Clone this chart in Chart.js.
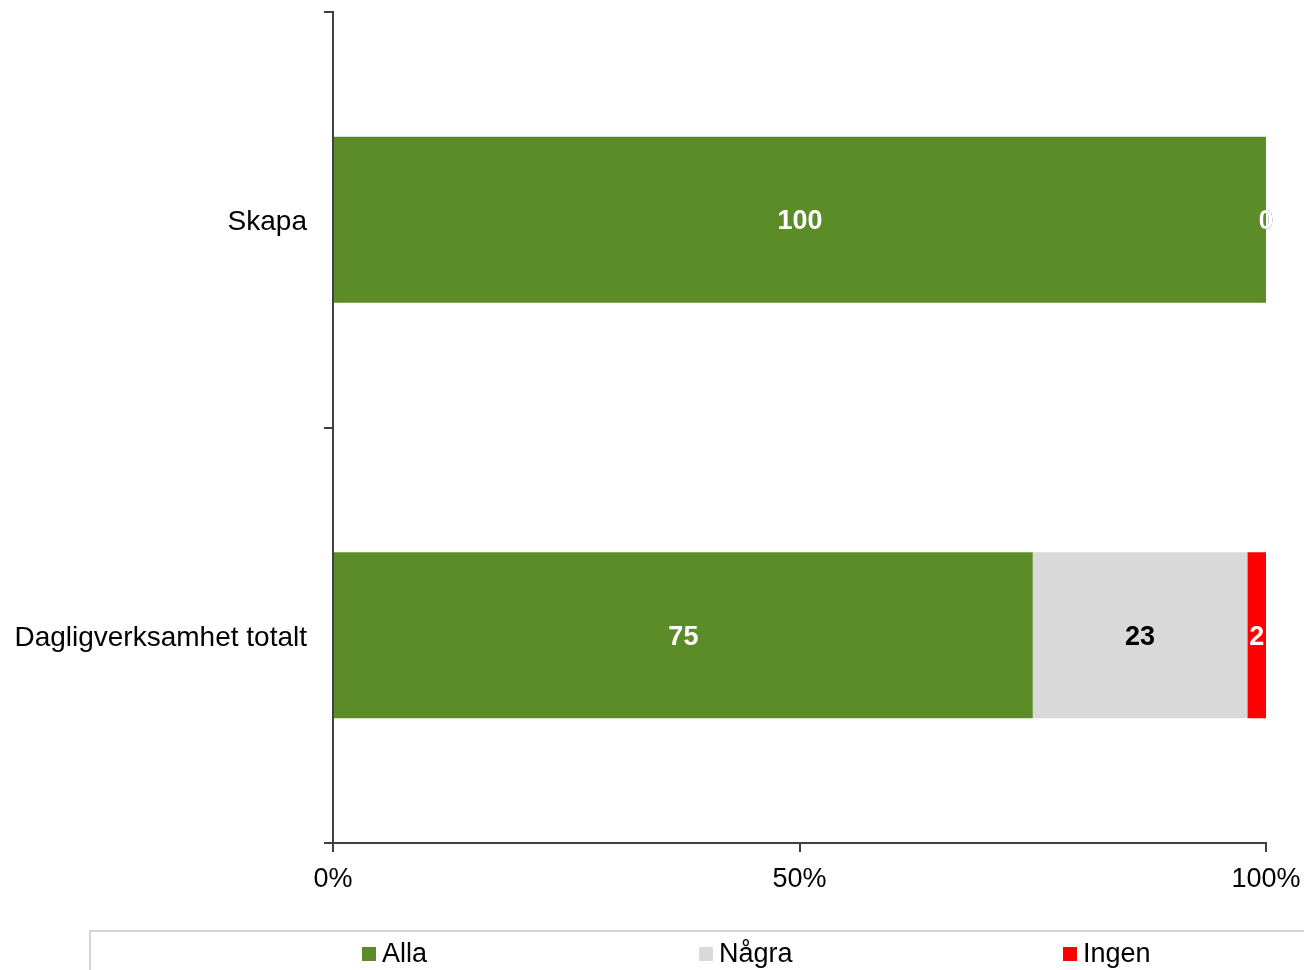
<!DOCTYPE html>
<html>
<head>
    <meta charset="utf-8" />
    <style>
        body { margin: 0; background: #fff; font-family: "Liberation Sans", Arial, sans-serif; }
        #wrap { position: relative; width: 1304px; height: 970px; }
        #legend { position: absolute; left: 89px; top: 930px; width: 1230px; height: 50px;
                  border-top: 2px solid #d4d4d4; border-left: 2px solid #d4d4d4; box-sizing: border-box; }
        .item { position: absolute; top: 2px; font-size: 27px; color: #000; line-height: 38px; }
        .box { display: inline-block; width: 14px; height: 14px; margin-right: 6px; vertical-align: 1px; }
    </style>
</head>
<body>
    <div id="wrap">
        <canvas id="chart" width="1304" height="970"></canvas>
        <div id="legend"></div>
    </div>

    <script src="https://cdn.jsdelivr.net/npm/chart.js"></script>
    <script type="text/javascript">

        // Data
        var categories = ['Skapa', 'Dagligverksamhet totalt'];
        var seriesNames = ['Alla', 'Några', 'Ingen'];
        var alla = [100, 75];
        var nagra = [0, 23];
        var ingen = [0, 2];
        var xTicks = [0, 50, 100];

        var colors = ['#5b8c27', '#d9d9d9', '#ff0000'];
        var labelColors = ['#ffffff', '#000000', '#ffffff'];
        var legendX = [360, 697, 1061];

        // Etiquetas de valores sobre las barras
        var valueLabels = {
            id: 'valueLabels',
            afterDatasetsDraw: function (chart) {
                var ctx = chart.ctx;
                ctx.save();
                ctx.font = 'bold 27px "Liberation Sans", Arial, sans-serif';
                ctx.textAlign = 'center';
                ctx.textBaseline = 'middle';
                chart.data.datasets.forEach(function (ds, i) {
                    var meta = chart.getDatasetMeta(i);
                    meta.data.forEach(function (bar, j) {
                        ctx.fillStyle = labelColors[i];
                        ctx.fillText(String(ds.data[j]), (bar.x + bar.base) / 2, bar.y + 2);
                    });
                });
                ctx.restore();
            }
        };

        var datasets = [alla, nagra, ingen].map(function (d, i) {
            return {
                label: seriesNames[i],
                data: d,
                backgroundColor: colors[i],
                borderWidth: 0,
                barPercentage: 0.4,
                categoryPercentage: 1.0
            };
        });

        var ctx = document.getElementById('chart').getContext('2d');
        var myChart = new Chart(ctx, {
            type: 'bar',
            data: { labels: categories, datasets: datasets },
            options: {
                indexAxis: 'y',
                responsive: false,
                animation: false,
                layout: { padding: { top: 12, right: 38, left: 0, bottom: 0 } },
                plugins: { legend: { display: false }, tooltip: { enabled: false } },
                scales: {
                    x: {
                        stacked: true,
                        min: 0,
                        max: 100,
                        afterBuildTicks: function (scale) {
                            scale.ticks = xTicks.map(function (v) { return { value: v }; });
                        },
                        afterFit: function (scale) {
                            scale.height = 127;
                            scale.paddingLeft = 0;
                            scale.paddingRight = 0;
                        },
                        border: { display: true, color: '#404040', width: 2 },
                        grid: { drawOnChartArea: false, drawTicks: true, tickLength: 9, color: '#404040', lineWidth: 2 },
                        ticks: {
                            padding: 11,
                            maxRotation: 0,
                            color: '#000',
                            font: { family: '"Liberation Sans", Arial, sans-serif', size: 27 },
                            callback: function (v) { return v + '%'; }
                        }
                    },
                    y: {
                        stacked: true,
                        afterFit: function (scale) {
                            scale.width = 333;
                            scale.paddingTop = 0;
                            scale.paddingBottom = 0;
                        },
                        border: { display: true, color: '#404040', width: 2 },
                        grid: { drawOnChartArea: false, drawTicks: true, tickLength: 9, color: '#404040', lineWidth: 2, offset: true },
                        ticks: {
                            padding: 17,
                            labelOffset: 3,
                            color: '#000',
                            font: { family: '"Liberation Sans", Arial, sans-serif', size: 28 }
                        }
                    }
                }
            },
            plugins: [valueLabels]
        });

        // Leyenda en HTML
        var legend = document.getElementById('legend');
        seriesNames.forEach(function (name, i) {
            var item = document.createElement('div');
            item.className = 'item';
            item.style.left = (legendX[i] - 89) + 'px';
            var box = document.createElement('span');
            box.className = 'box';
            box.style.background = colors[i];
            item.appendChild(box);
            item.appendChild(document.createTextNode(name));
            legend.appendChild(item);
        });

    </script>
</body>
</html>
